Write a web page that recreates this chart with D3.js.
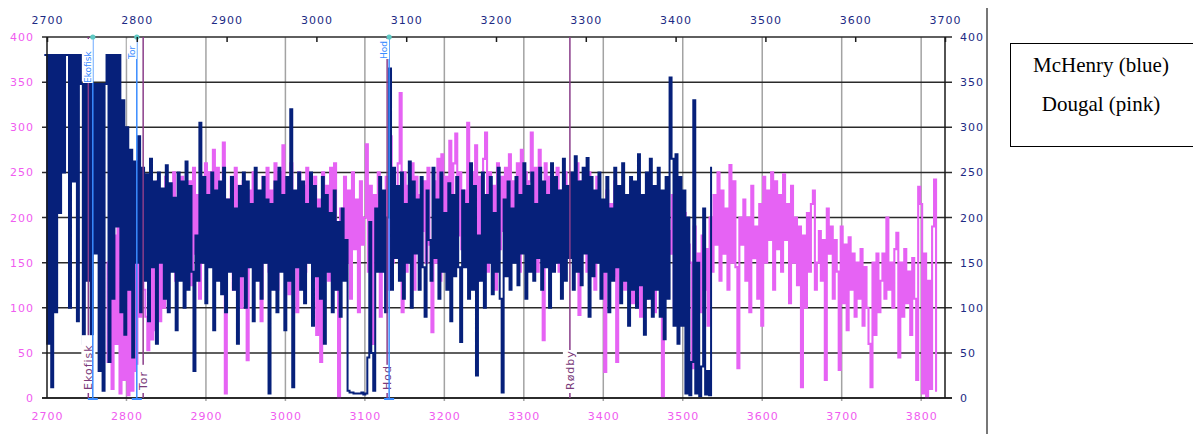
<!DOCTYPE html>
<html><head><meta charset="utf-8">
<script src="https://cdn.jsdelivr.net/npm/d3@7"></script>
<style>body{margin:0;background:#fff} svg{display:block}</style>
</head><body>
<svg id="chart" width="1193" height="434"></svg>
<script>
// ---------- data ----------
const yTickValues = [0, 50, 100, 150, 200, 250, 300, 350, 400];
const topTickValues = [2700, 2800, 2900, 3000, 3100, 3200, 3300, 3400, 3500, 3600, 3700];
const bottomTickValues = [2700, 2800, 2900, 3000, 3100, 3200, 3300, 3400, 3500, 3600, 3700, 3800];

// McHenry (blue) – plotted against the top depth axis
const mchenryStart = 2697, mchenryStep = 2.2;
const mchenryValues = [
380,380,60,380,12,380,95,380,205,380,
250,380,380,100,380,240,380,85,380,348,
60,348,130,348,25,348,160,348,30,348,
8,348,380,40,380,110,380,190,380,95,
330,70,300,120,275,45,262,150,290,95,
255,130,248,85,265,145,240,60,250,150,
232,110,258,95,238,140,222,75,250,130,
240,100,262,120,235,140,30,180,130,305,
150,245,105,225,145,250,75,230,130,240,
115,255,95,220,140,245,120,210,60,235,
135,250,100,240,145,215,85,255,130,230,
110,245,150,220,5,215,120,240,95,255,
140,225,75,245,130,320,12,230,145,250,
120,240,105,215,150,250,80,235,135,210,
110,245,60,225,140,205,95,230,120,195,
90,210,130,175,8,6,6,5,5,5,
5,6,4,5,45,195,50,8,210,140,
245,140,230,95,200,365,120,255,155,235,
130,250,110,215,150,262,100,240,160,220,
120,245,145,90,230,175,130,255,155,220,
110,250,140,205,120,238,85,225,135,245,
145,62,230,145,215,110,260,120,235,25,
180,130,250,100,225,150,245,115,205,140,
255,110,6,220,135,240,120,210,150,245,
125,225,160,260,110,235,140,250,130,215,
155,255,120,240,145,225,100,260,140,245,
150,230,110,265,130,235,155,250,120,268,
140,240,125,255,160,266,90,245,135,230,
150,250,110,220,140,245,95,210,130,255,
145,235,105,260,130,225,80,245,120,240,
100,270,125,225,70,250,110,265,90,235,
120,255,90,230,65,245,110,355,265,80,
270,60,245,80,230,5,200,3,40,330,
5,150,2,35,210,4,30,3,255
];

// Dougal (pink) – plotted against the bottom depth axis
const dougalStart = 2775, dougalStep = 2.5;
const dougalValues = [
150,40,195,10,180,60,200,5,170,20,
190,3,160,8,185,30,210,90,175,120,
90,53,205,65,230,75,240,85,215,100,
245,120,235,150,250,130,220,165,245,140,
210,170,240,125,255,160,225,110,245,175,
260,150,250,185,275,140,255,170,230,283,
5,220,150,245,120,255,165,235,100,240,
225,42,230,170,250,135,225,160,85,245,
180,255,140,230,165,260,120,250,175,280,
150,240,115,260,170,225,95,250,160,235,
140,255,180,230,165,245,70,220,40,250,
170,235,130,255,150,260,120,0,210,175,
245,150,230,110,250,165,220,95,240,170,
200,281,140,235,60,225,155,250,90,215,
160,245,120,290,150,230,170,260,338,95,
250,140,235,175,260,120,245,165,225,185,
240,150,255,170,73,240,150,265,130,270,
160,245,175,285,140,260,293,180,250,165,
230,190,305,150,250,175,280,130,245,160,
265,294,140,250,175,235,120,260,165,245,
185,255,150,270,165,240,190,260,140,275,
170,250,160,240,294,180,255,140,275,185,
64,260,170,245,150,235,180,255,140,230,
190,250,160,235,175,245,150,260,92,240,
165,230,140,250,185,225,120,245,160,210,
175,29,230,150,215,135,240,40,200,165,
225,120,205,160,240,105,215,140,195,90,
180,220,110,200,150,230,95,190,140,170,
1,210,120,185,160,225,100,195,140,180,
130,205,90,170,150,33,190,110,160,95,
180,120,165,80,200,140,225,170,250,130,
230,160,210,120,258,150,240,145,33,200,
170,220,130,200,95,235,155,190,110,215,
80,245,150,230,175,250,120,240,165,225,
140,248,175,215,105,235,150,200,125,190,
12,180,100,205,140,215,230,120,150,185,
130,175,20,210,160,190,110,175,140,31,
190,105,170,75,178,120,160,90,150,110,
165,80,145,100,60,12,150,70,160,95,
130,160,110,200,120,150,100,165,183,45,
150,90,165,105,140,70,155,110,20,234,
215,5,160,0,130,10,190,242,8
];

const mchenryMarkerNames = ["Ekofisk", "Tor", "Hod"];
const mchenryMarkerDepths = [2751, 2800, 3081];
const dougalMarkerNames = ["Ekofisk", "Tor", "Hod", "Rødby"];
const dougalMarkerDepths = [2752, 2821, 3128, 3358];
const legendLabels = ["McHenry (blue)", "Dougal (pink)"];

// ---------- layout ----------
const svg = d3.select("#chart");
const L = 47, R = 945, T = 37, B = 398;
const y = d3.scaleLinear().domain([0, 400]).range([B, T]);
const xTop = d3.scaleLinear().domain([2700, 3700]).range([L, R]);
const xBot = d3.scaleLinear().domain([2700, 3830]).range([L, R]);

const NAVY = "#06207a", PINK = "#e663f4", MAG = "#f05cf0", AXNAVY = "#1d2a84";
const MARKBLUE = "#3a8cff", MARKPURP = "#8a3d8a";

// vertical grid (bottom axis)
svg.append("g").selectAll("line").data(bottomTickValues.slice(1)).join("line")
  .attr("x1", d => xBot(d)).attr("x2", d => xBot(d))
  .attr("y1", T).attr("y2", B + 3)
  .attr("stroke", "#a3a3a3").attr("stroke-width", 1.5);

// horizontal grid
svg.append("g").selectAll("line").data(yTickValues).join("line")
  .attr("x1", L - 5).attr("x2", R + 7)
  .attr("y1", d => y(d)).attr("y2", d => y(d))
  .attr("stroke", "#2a2a2a").attr("stroke-width", 1.5);

// series
const mchenry = mchenryValues.map((v, i) => ({ d: mchenryStart + i * mchenryStep, v }));
const dougal = dougalValues.map((v, i) => ({ d: dougalStart + i * dougalStep, v }));

svg.append("path").datum(dougal)
  .attr("fill", "none").attr("stroke", PINK).attr("stroke-width", 2.1)
  .attr("d", d3.line().curve(d3.curveStep).x(p => xBot(p.d)).y(p => y(p.v)));

svg.append("path").datum(mchenry)
  .attr("fill", "none").attr("stroke", NAVY).attr("stroke-width", 2.0)
  .attr("d", d3.line().curve(d3.curveStep).x(p => xTop(p.d)).y(p => y(p.v)));

// frame lines
svg.append("line").attr("x1", L).attr("x2", L).attr("y1", T).attr("y2", B)
  .attr("stroke", "#1a1a1a").attr("stroke-width", 1.5);
svg.append("line").attr("x1", R).attr("x2", R).attr("y1", T).attr("y2", B)
  .attr("stroke", "#1a1a1a").attr("stroke-width", 1.5);
svg.append("line").attr("x1", L - 5).attr("x2", R + 7).attr("y1", B).attr("y2", B)
  .attr("stroke", "#1a1a1a").attr("stroke-width", 1.5);

// Dougal markers (purple, labels at bottom)
const dm = svg.append("g");
dougalMarkerDepths.forEach((dep, i) => {
  const x = xBot(dep);
  dm.append("line").attr("x1", x).attr("x2", x).attr("y1", T).attr("y2", B)
    .attr("stroke", MARKPURP).attr("stroke-width", 1.5);
  const len = dougalMarkerNames[i].length * 7.4;
  dm.append("rect").attr("x", x - 7).attr("y", B - 8 - len - 3).attr("width", 14).attr("height", len + 6)
    .attr("fill", "#fff");
  dm.append("text").attr("transform", `translate(${x + 4},${B - 8}) rotate(-90)`)
    .attr("font-family", "DejaVu Sans").attr("font-size", 11).attr("letter-spacing", 1)
    .attr("fill", "#7a3a7a").text(dougalMarkerNames[i]);
});

// McHenry markers (blue, labels at top)
const bm = svg.append("g");
mchenryMarkerDepths.forEach((dep, i) => {
  const x = xTop(dep);
  bm.append("line").attr("x1", x).attr("x2", x).attr("y1", T).attr("y2", B)
    .attr("stroke", MARKBLUE).attr("stroke-width", 1.5);
  bm.append("line").attr("x1", x - 5).attr("x2", x + 5).attr("y1", B + 1).attr("y2", B + 1)
    .attr("stroke", MARKBLUE).attr("stroke-width", 2);
  const len = mchenryMarkerNames[i].length * 6;
  bm.append("rect").attr("x", x - 10).attr("y", T + 2).attr("width", 10).attr("height", len + 2)
    .attr("fill", "#fff");
  bm.append("text").attr("transform", `translate(${x - 2},${T + 4 + len}) rotate(-90)`)
    .attr("font-family", "DejaVu Sans").attr("font-size", 9)
    .attr("fill", MARKBLUE).text(mchenryMarkerNames[i]);
  bm.append("circle").attr("cx", x).attr("cy", T).attr("r", 2.6).attr("fill", "#5fc9c4");
});

// axes
const fontStyle = g => g.selectAll("text")
  .attr("font-family", "DejaVu Sans").attr("font-size", 11).attr("letter-spacing", 1);

svg.append("g").attr("transform", `translate(0,${T})`)
  .call(d3.axisTop(xTop).tickValues(topTickValues).tickSize(-5).tickPadding(13).tickFormat(d3.format("d")))
  .call(g => g.select(".domain").remove())
  .call(g => g.selectAll("line").attr("stroke", "#1a1a1a").attr("stroke-width", 1.5))
  .call(fontStyle)
  .call(g => g.selectAll("text").attr("fill", AXNAVY));

svg.append("g").attr("transform", `translate(0,${B})`)
  .call(d3.axisBottom(xBot).tickValues(bottomTickValues).tickSize(0).tickPadding(14).tickFormat(d3.format("d")))
  .call(g => g.select(".domain").remove())
  .call(fontStyle)
  .call(g => g.selectAll("text").attr("fill", MAG));

svg.append("g").attr("transform", `translate(${L},0)`)
  .call(d3.axisLeft(y).tickValues(yTickValues).tickSize(0).tickPadding(13))
  .call(g => g.select(".domain").remove())
  .call(fontStyle)
  .call(g => g.selectAll("text").attr("fill", MAG));

svg.append("g").attr("transform", `translate(${R},0)`)
  .call(d3.axisRight(y).tickValues(yTickValues).tickSize(0).tickPadding(15))
  .call(g => g.select(".domain").remove())
  .call(fontStyle)
  .call(g => g.selectAll("text").attr("fill", AXNAVY));

// separator
svg.append("line").attr("x1", 987).attr("x2", 987).attr("y1", 8).attr("y2", 434)
  .attr("stroke", "#4a4a4a").attr("stroke-width", 1.5);

// legend
const lg = svg.append("g");
lg.append("rect").attr("x", 1010.5).attr("y", 43.5).attr("width", 190).attr("height", 103)
  .attr("fill", "#fff").attr("stroke", "#000").attr("stroke-width", 1);
lg.selectAll("text").data(legendLabels).join("text")
  .attr("x", 1101).attr("y", (d, i) => 72 + i * 39)
  .attr("text-anchor", "middle")
  .attr("font-family", "Liberation Serif").attr("font-size", 21)
  .attr("fill", "#000").text(d => d);
</script>
</body></html>
